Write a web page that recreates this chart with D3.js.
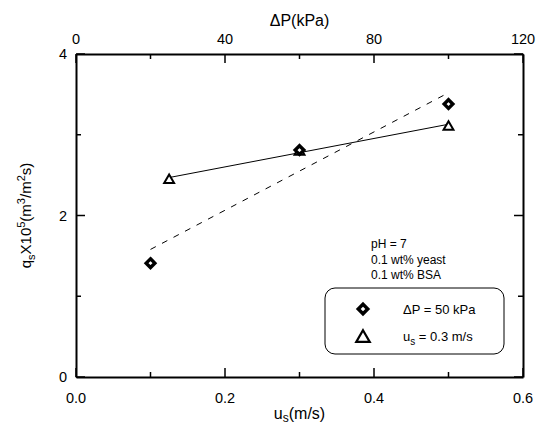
<!DOCTYPE html>
<html>
<head>
<meta charset="utf-8">
<script src="https://cdn.jsdelivr.net/npm/d3@7"></script>
<style>
  body { margin: 0; background: #fff; }
  svg text { font-family: "Liberation Sans", Arial, sans-serif; fill: #000; }
</style>
</head>
<body>
<svg width="537" height="427"></svg>
<script>
// diamonds: constant dP = 50 kPa, plotted against u_s (bottom axis)
var usValues = [0.1, 0.3, 0.5];
var qsAtDp = [1.41, 2.81, 3.38];
// triangles: constant u_s = 0.3 m/s, plotted against dP (top axis)
var dpValues = [25, 60, 100];
var qsAtUs = [2.45, 2.80, 3.11];
// fitted lines (end points)
var fitUs = [0.1, 0.5];
var fitUsQ = [1.58, 3.52];
var fitDp = [25, 100];
var fitDpQ = [2.47, 3.13];

var xTicks = [0, 0.1, 0.2, 0.3, 0.4, 0.5, 0.6];
var xLabels = [0, 0.2, 0.4, 0.6];
var topTicks = [0, 20, 40, 60, 80, 100, 120];
var topLabels = [0, 40, 80, 120];
var yTicks = [0, 1, 2, 3, 4];
var yLabels = [0, 2, 4];
var notes = ["pH = 7", "0.1 wt% yeast", "0.1 wt% BSA"];

function renderChart() {
    var svg = d3.select("svg"),
        margin = { top: 54, right: 14, bottom: 50, left: 76 },
        width = +svg.attr("width") - margin.left - margin.right,
        height = +svg.attr("height") - margin.top - margin.bottom;

    var x = d3.scaleLinear().domain([0, 0.6]).range([0, width]),
        xTop = d3.scaleLinear().domain([0, 120]).range([0, width]),
        y = d3.scaleLinear().domain([0, 4]).range([height, 0]);

    var g = svg.append("g")
        .attr("transform", "translate(" + margin.left + "," + margin.top + ")");

    function tickLen(isMajor) { return isMajor ? 9 : 5; }

    // bottom axis
    g.append("g")
        .attr("transform", "translate(0," + height + ")")
        .call(d3.axisBottom(x).tickValues(xTicks).tickSizeInner(0).tickSizeOuter(0).tickFormat(""))
        .call(function (a) { a.select(".domain").attr("stroke-width", 2); a.selectAll(".tick").remove(); });
    xTicks.forEach(function (t) {
        var major = xLabels.indexOf(t) >= 0;
        g.append("line").attr("x1", x(t)).attr("x2", x(t))
            .attr("y1", height).attr("y2", height - tickLen(major))
            .attr("stroke", "#000").attr("stroke-width", 1.5);
    });
    xLabels.forEach(function (t) {
        g.append("text").attr("x", x(t)).attr("y", height + 26)
            .attr("text-anchor", "middle").attr("font-size", 14.5)
            .text(d3.format(".1f")(t));
    });

    // top axis
    g.append("g")
        .call(d3.axisTop(xTop).tickValues(topTicks).tickSizeInner(0).tickSizeOuter(0).tickFormat(""))
        .call(function (a) { a.select(".domain").attr("stroke-width", 2); a.selectAll(".tick").remove(); });
    topTicks.forEach(function (t) {
        var major = topLabels.indexOf(t) >= 0;
        g.append("line").attr("x1", xTop(t)).attr("x2", xTop(t))
            .attr("y1", 0).attr("y2", tickLen(major))
            .attr("stroke", "#000").attr("stroke-width", 1.5);
    });
    topLabels.forEach(function (t) {
        g.append("text").attr("x", xTop(t)).attr("y", -10)
            .attr("text-anchor", "middle").attr("font-size", 14.5)
            .text(t);
    });

    // left and right axes
    g.append("g")
        .call(d3.axisLeft(y).tickValues(yTicks).tickSizeInner(0).tickSizeOuter(0).tickFormat(""))
        .call(function (a) { a.select(".domain").attr("stroke-width", 2); a.selectAll(".tick").remove(); });
    g.append("g")
        .attr("transform", "translate(" + width + ",0)")
        .call(d3.axisRight(y).tickValues(yTicks).tickSizeInner(0).tickSizeOuter(0).tickFormat(""))
        .call(function (a) { a.select(".domain").attr("stroke-width", 2); a.selectAll(".tick").remove(); });
    yTicks.forEach(function (t) {
        var major = yLabels.indexOf(t) >= 0;
        g.append("line").attr("x1", 0).attr("x2", tickLen(major))
            .attr("y1", y(t)).attr("y2", y(t))
            .attr("stroke", "#000").attr("stroke-width", 1.5);
        g.append("line").attr("x1", width).attr("x2", width - tickLen(major))
            .attr("y1", y(t)).attr("y2", y(t))
            .attr("stroke", "#000").attr("stroke-width", 1.5);
    });
    yLabels.forEach(function (t) {
        g.append("text").attr("x", -9).attr("y", y(t) + 5)
            .attr("text-anchor", "end").attr("font-size", 14.5)
            .text(t);
    });

    // axis titles
    var bt = g.append("text").attr("x", width / 2).attr("y", height + 42)
        .attr("text-anchor", "middle").attr("font-size", 16);
    bt.append("tspan").text("u");
    bt.append("tspan").attr("dy", 3).attr("font-size", 12).text("s");
    bt.append("tspan").attr("dy", -3).text("(m/s)");

    g.append("text").attr("x", width / 2).attr("y", -28)
        .attr("text-anchor", "middle").attr("font-size", 16)
        .text("\u0394P(kPa)");

    var yt = svg.append("text")
        .attr("transform", "translate(31," + (margin.top + height / 2) + ") rotate(-90)")
        .attr("text-anchor", "middle").attr("font-size", 15);
    yt.append("tspan").text("q");
    yt.append("tspan").attr("dy", 4).attr("font-size", 11).text("s");
    yt.append("tspan").attr("dy", -4).text("X10");
    yt.append("tspan").attr("dy", -6).attr("font-size", 11).text("5");
    yt.append("tspan").attr("dy", 6).text("(m");
    yt.append("tspan").attr("dy", -6).attr("font-size", 11).text("3");
    yt.append("tspan").attr("dy", 6).text("/m");
    yt.append("tspan").attr("dy", -6).attr("font-size", 11).text("2");
    yt.append("tspan").attr("dy", 6).text("s)");

    // fitted lines
    var lineUs = d3.line().x(function (d) { return x(d[0]); }).y(function (d) { return y(d[1]); });
    var lineDp = d3.line().x(function (d) { return xTop(d[0]); }).y(function (d) { return y(d[1]); });
    g.append("path").datum(d3.zip(fitUs, fitUsQ)).attr("d", lineUs)
        .attr("fill", "none").attr("stroke", "#000").attr("stroke-width", 1)
        .attr("stroke-dasharray", "6,7");
    g.append("path").datum(d3.zip(fitDp, fitDpQ)).attr("d", lineDp)
        .attr("fill", "none").attr("stroke", "#000").attr("stroke-width", 1);

    // markers
    var diamond = d3.symbol().type(d3.symbolDiamond2).size(48);
    var triangle = d3.symbol().type(d3.symbolTriangle2).size(70);

    g.selectAll(".tri").data(d3.zip(dpValues, qsAtUs)).enter().append("path")
        .attr("class", "tri")
        .attr("transform", function (d) { return "translate(" + xTop(d[0]) + "," + (y(d[1]) + 1) + ")"; })
        .attr("d", triangle)
        .attr("fill", "#fff").attr("stroke", "#000").attr("stroke-width", 2);

    g.selectAll(".dia").data(d3.zip(usValues, qsAtDp)).enter().append("path")
        .attr("class", "dia")
        .attr("transform", function (d) { return "translate(" + x(d[0]) + "," + y(d[1]) + ")"; })
        .attr("d", diamond)
        .attr("fill", "#fff").attr("stroke", "#000").attr("stroke-width", 3.4);

    // notes
    notes.forEach(function (t, i) {
        svg.append("text").attr("x", 371).attr("y", 248 + i * 15.5)
            .attr("font-size", 12).text(t);
    });

    // legend
    var lg = svg.append("g").attr("transform", "translate(325,288)");
    lg.append("rect").attr("width", 179).attr("height", 66).attr("rx", 10).attr("ry", 10)
        .attr("fill", "#fff").attr("stroke", "#000").attr("stroke-width", 1);
    lg.append("path").attr("transform", "translate(38,21)")
        .attr("d", d3.symbol().type(d3.symbolDiamond2).size(58))
        .attr("fill", "#fff").attr("stroke", "#000").attr("stroke-width", 3.4);
    lg.append("path").attr("transform", "translate(38,50)")
        .attr("d", d3.symbol().type(d3.symbolTriangle2).size(130))
        .attr("fill", "#fff").attr("stroke", "#000").attr("stroke-width", 2.2);
    lg.append("text").attr("x", 78).attr("y", 26).attr("font-size", 13)
        .text("\u0394P = 50 kPa");
    var l2 = lg.append("text").attr("x", 78).attr("y", 53).attr("font-size", 13);
    l2.append("tspan").text("u");
    l2.append("tspan").attr("dy", 4).attr("font-size", 10).text("s");
    l2.append("tspan").attr("dy", -4).text(" = 0.3 m/s");
}

renderChart();
</script>
</body>
</html>
